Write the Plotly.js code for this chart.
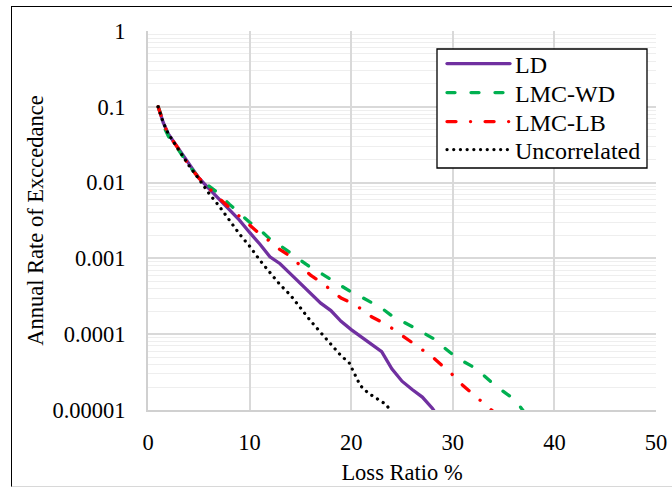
<!DOCTYPE html>
<html>
<head>
<meta charset="utf-8">
<script src="https://cdn.plot.ly/plotly-3.0.1.min.js"></script>
<style>
  html, body { margin: 0; padding: 0; background: #ffffff; overflow: hidden; }
  #frame { position: absolute; left: 11px; top: 6px; width: 700px; height: 481px;
           border: 1px solid #000; border-bottom-color: #d8d8d8; box-sizing: border-box; }
  #chart { position: absolute; left: 0; top: 0; width: 672px; height: 490px; }
  .js-line { stroke-linecap: round; }
</style>
</head>
<body>
<div id="frame"></div>
<div id="chart"></div>
<script>
// ---- data ----
const seriesNames = ["LD", "LMC-WD", "LMC-LB", "Uncorrelated"];

const lossLD = [1, 1.5, 2, 3, 4, 5, 6, 7, 8, 9, 10, 11, 12, 13, 14, 15, 16, 17, 18, 19, 20, 21, 22, 23, 24, 25, 26, 27, 28, 28.3];
const rateLD = [0.1, 0.062, 0.044, 0.028, 0.018, 0.0115, 0.0083, 0.006, 0.0044, 0.0032, 0.0022, 0.00155, 0.00105, 0.00085, 0.00063, 0.00047, 0.00035, 0.000257, 0.000205, 0.000148, 0.000115, 0.000093, 0.000074, 0.000059, 0.000035, 0.000024, 0.0000186, 0.0000148, 0.0000105, 0.0000091];

const lossWD = [1, 1.5, 1.7, 2.2, 3, 4, 5, 6, 7, 8, 9, 10, 11, 12, 13, 14, 15, 16, 17, 18, 19, 20, 21, 22, 23, 24, 25, 26, 27, 28, 29, 30, 31, 32, 33, 34, 35, 36, 36.5, 37];
const rateWD = [0.1, 0.065, 0.05, 0.036, 0.027, 0.017, 0.0115, 0.0091, 0.0071, 0.0052, 0.004, 0.003, 0.0024, 0.0018, 0.00148, 0.00118, 0.00093, 0.00076, 0.00064, 0.00053, 0.00044, 0.00036, 0.00031, 0.00026, 0.00022, 0.000175, 0.00015, 0.000126, 0.000106, 0.000089, 0.000069, 0.000054, 0.000044, 0.000037, 0.000029, 0.000022, 0.0000175, 0.000014, 0.0000117, 0.0000095];

const lossLB = [1, 1.5, 2, 3, 4, 5, 6, 7, 8, 9, 10, 11, 12, 13, 14, 15, 16, 17, 18, 19, 20, 21, 22, 23, 24, 25, 26, 27, 28, 29, 30, 31, 32, 33, 34];
const rateLB = [0.1, 0.062, 0.043, 0.028, 0.017, 0.0115, 0.0085, 0.0062, 0.0047, 0.0036, 0.0027, 0.0021, 0.00168, 0.0013, 0.00107, 0.00079, 0.0006, 0.00049, 0.00038, 0.0003, 0.00026, 0.000215, 0.00017, 0.000145, 0.00012, 0.000096, 0.000077, 0.000063, 0.00005, 0.000038, 0.000029, 0.000021, 0.000016, 0.0000125, 0.0000095];

const lossUC = [1, 1.5, 2, 3, 4, 5, 6, 7, 8, 9, 10, 11, 12, 13, 14, 15, 16, 17, 18, 19, 19.8, 20.1, 20.9, 21.7, 22.9, 23.5, 23.8, 24.2];
const rateUC = [0.1, 0.062, 0.044, 0.027, 0.017, 0.0112, 0.0072, 0.0049, 0.0032, 0.0021, 0.00145, 0.00095, 0.00065, 0.00045, 0.00033, 0.00022, 0.00015, 0.000105, 0.000074, 0.000052, 0.000042, 0.000035, 0.000021, 0.0000166, 0.0000129, 0.0000117, 0.0000098, 0.000009];

const xTickVals = [0, 10, 20, 30, 40, 50];
const yTickVals = [0.00001, 0.0001, 0.001, 0.01, 0.1, 1];
const yTickText = ["0.00001", "0.0001", "0.001", "0.01", "0.1", "1"];

const xTitle = "Loss Ratio %";
const yTitle = "Annual Rate of Exccedance";

// minor log gridline positions (2..9 within each decade)
const yMinorVals = [];
for (let e = -5; e < 0; e++) {
  for (let m = 2; m <= 9; m++) yMinorVals.push(m * Math.pow(10, e));
}

// ---- chart ----
const FONT = "'Liberation Serif', 'Times New Roman', serif";
const TICK_SIZE = 22.5;
const LEG_SIZE = 24;

// plot area in pixels (for placing legend pieces in paper coords)
const PL = 148, PR = 656, PT = 31, PB = 410;
const px2x = p => (p - PL) / (PR - PL);
const py2y = p => (PB - p) / (PB - PT);
const legendRows = [64, 93, 122, 150];

const traces = [
  { x: lossLD, y: rateLD, name: seriesNames[0], mode: "lines", legend: "legend",
    line: { color: "#7030a0", width: 3.3 } },
  { x: lossWD, y: rateWD, name: seriesNames[1], mode: "lines", legend: "legend2",
    line: { color: "#00b050", width: 3.3, dash: "8px,16px" } },
  { x: lossLB, y: rateLB, name: seriesNames[2], mode: "lines", legend: "legend3",
    line: { color: "#ff0000", width: 3.3, dash: "9px,14.5px,0.1px,14.5px" } },
  { x: lossUC, y: rateUC, name: seriesNames[3], mode: "lines", legend: "legend4",
    line: { color: "#000000", width: 3.2, dash: "0.1px,6.6px" } }
];

function legendAt(row) {
  return {
    x: px2x(442), y: py2y(legendRows[row]), xanchor: "left", yanchor: "middle",
    bgcolor: "rgba(0,0,0,0)", borderwidth: 0,
    font: { family: FONT, size: LEG_SIZE, color: "#000000" },
    itemwidth: 63
  };
}

const layout = {
  width: 672, height: 490,
  margin: { l: PL, r: 672 - PR, t: PT, b: 490 - PB, pad: 0 },
  paper_bgcolor: "rgba(0,0,0,0)",
  plot_bgcolor: "#ffffff",
  font: { family: FONT, size: TICK_SIZE, color: "#000000" },
  showlegend: true,
  legend: legendAt(0),
  legend2: legendAt(1),
  legend3: legendAt(2),
  legend4: legendAt(3),
  shapes: [
    { type: "rect", xref: "paper", yref: "paper",
      x0: px2x(437), x1: px2x(647), y0: py2y(168), y1: py2y(49),
      fillcolor: "#ffffff", line: { color: "#000000", width: 1.3 }, layer: "above" }
  ],
  xaxis: {
    range: [0, 50], tickmode: "array", tickvals: xTickVals,
    showgrid: true, gridcolor: "#d9d9d9", gridwidth: 2,
    showline: true, linecolor: "#d0d0d0", linewidth: 2,
    zeroline: false,
    ticks: "outside", ticklen: 11, tickcolor: "rgba(0,0,0,0)",
    tickfont: { family: FONT, size: TICK_SIZE, color: "#000000" },
    title: { text: xTitle, font: { family: FONT, size: TICK_SIZE, color: "#000000" }, standoff: 10 }
  },
  yaxis: {
    type: "log", range: [-5, 0],
    tickmode: "array", tickvals: yTickVals, ticktext: yTickText,
    showgrid: true, gridcolor: "#d9d9d9", gridwidth: 2,
    showline: true, linecolor: "#d0d0d0", linewidth: 2,
    zeroline: false,
    ticks: "outside", ticklen: 16, tickcolor: "rgba(0,0,0,0)",
    tickfont: { family: FONT, size: TICK_SIZE, color: "#000000" },
    minor: { tickmode: "array", tickvals: yMinorVals, showgrid: true, gridcolor: "#eeeeee", gridwidth: 1, ticks: "" },
    title: { text: yTitle, font: { family: FONT, size: TICK_SIZE, color: "#000000" }, standoff: 3 }
  }
};

Plotly.newPlot("chart", traces, layout, { staticPlot: true, displayModeBar: false });
</script>
</body>
</html>
